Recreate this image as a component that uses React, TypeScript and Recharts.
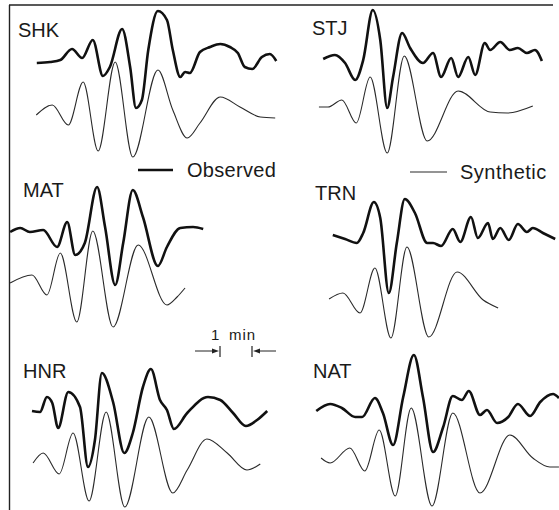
import { Line, LineChart, XAxis, YAxis } from "recharts";

// Long-period records, six stations. Each point is [time (s), amplitude].
// Time runs from the left edge of the station's box; amplitude is relative.
const stationNames = ["SHK", "STJ", "MAT", "TRN", "HNR", "NAT"];

const shkObserved: [number, number][] = [
  [69, -3], [94, -2], [113, 0], [135, 11], [154, 2], [174, 20], [193, -16], [206, -7],
  [229, 31], [244, -7], [255, -48], [266, -40], [278, 10], [296, 49], [313, 40], [324, 10],
  [338, -17], [347, -12], [356, -13], [375, 8], [394, 13], [413, 16], [431, 13], [446, 7],
  [459, -7], [473, -9], [491, 3], [506, 6], [518, -1],
];
const shkSynthetic: [number, number][] = [
  [68, 0], [98, 10], [128, -10], [156, 33], [184, -36], [216, 53], [249, -42], [296, 45],
  [324, 5], [351, -23], [375, -8], [413, 18], [450, 8], [488, -2], [516, -3],
];

const stjObserved: [number, number][] = [
  [81, 1], [103, 5], [122, -3], [141, -20], [156, 0], [174, 50], [188, 20], [201, -48],
  [212, -17], [229, 27], [244, 12], [268, -3], [287, 7], [302, -17], [321, 2], [334, -17],
  [353, 3], [366, -15], [384, 17], [394, 10], [413, 18], [431, 10], [446, 12], [463, 7],
  [478, 10], [491, -1],
];
const stjSynthetic: [number, number][] = [
  [73, 0], [90, 0], [116, 7], [143, -16], [169, 30], [201, -46], [233, 51], [276, -34],
  [334, 16], [394, -5], [426, -6], [474, 1],
];

const matObserved: [number, number][] = [
  [19, -2], [38, 2], [56, -2], [81, 0], [107, -17], [126, 8], [141, -25], [159, -13],
  [182, 43], [197, 3], [216, -55], [231, -13], [249, 40], [268, 13], [296, -36], [313, -17],
  [338, 2], [362, 3], [381, 1],
];
const matSynthetic: [number, number][] = [
  [19, 0], [60, 8], [88, -12], [113, 30], [144, -39], [174, 52], [212, -44], [259, 38],
  [313, -22], [332, -14], [347, -5],
];

const trnObserved: [number, number][] = [
  [99, 5], [122, 1], [144, -3], [156, 7], [176, 38], [188, 22], [204, -53], [219, -3],
  [234, 41], [253, 27], [276, -3], [287, -3], [302, -6], [324, 11], [338, -2], [358, 23],
  [371, 2], [390, 17], [399, 1], [413, 12], [429, 0], [446, 16], [463, 8], [474, 12],
  [493, 7], [516, 1],
];
const trnSynthetic: [number, number][] = [
  [92, 0], [118, 6], [150, -14], [178, 31], [208, -39], [238, 52], [279, -38], [332, 27],
  [381, -1], [409, -9],
];

const hnrObserved: [number, number][] = [
  [60, -1], [75, -2], [88, 13], [98, 7], [109, -18], [128, 18], [150, 3], [165, -57],
  [178, -30], [191, 37], [212, 8], [233, -43], [249, -23], [268, 23], [283, 41], [300, 10],
  [313, 0], [326, -19], [351, -3], [390, 13], [413, 10], [437, -3], [461, -16], [482, -10],
  [501, -1],
];
const hnrSynthetic: [number, number][] = [
  [62, 0], [81, 10], [111, -11], [137, 30], [167, -38], [199, 51], [234, -44], [279, 46],
  [324, -30], [351, -7], [388, 24], [426, 10], [463, -7], [488, -1],
];

const natObserved: [number, number][] = [
  [68, -1], [94, 6], [116, 2], [141, -7], [154, -7], [178, 12], [193, -3], [212, -35],
  [231, 13], [251, 55], [268, 13], [287, -42], [306, -17], [324, 14], [341, 10], [354, 19],
  [375, -5], [388, 0], [407, -13], [428, -7], [446, 6], [469, -6], [488, 8], [512, 16],
  [523, 12],
];
const natSynthetic: [number, number][] = [
  [77, 2], [94, -3], [131, 12], [159, -11], [186, 30], [216, -36], [246, 52], [285, -46],
  [324, 47], [375, -33], [431, 25], [474, 2], [506, -7], [523, -7],
];

const legendLabels = ["Observed", "Synthetic"];
const scaleLabel = ["1", "min"];

// layout
const SEC_PER_PX = 1.875;
const BOX_H = 170;

type Box = {
  obs: [number, number][];
  syn: [number, number][];
  left: number;
  top: number;
  w: number;
  obsDomain: [number, number];
  synDomain: [number, number];
  labelX: number;
  labelY: number;
};

const boxes: Box[] = [
  { obs: shkObserved, syn: shkSynthetic, left: 0, top: 0, w: 280, obsDomain: [-110, 60], synDomain: [-55, 115], labelX: 18, labelY: 37 },
  { obs: stjObserved, syn: stjSynthetic, left: 280, top: 0, w: 279, obsDomain: [-110, 60], synDomain: [-63, 107], labelX: 312, labelY: 35 },
  { obs: matObserved, syn: matSynthetic, left: 0, top: 170, w: 280, obsDomain: [-110, 60], synDomain: [-57, 113], labelX: 23, labelY: 197 },
  { obs: trnObserved, syn: trnSynthetic, left: 280, top: 170, w: 279, obsDomain: [-100, 70], synDomain: [-41, 129], labelX: 315, labelY: 200 },
  { obs: hnrObserved, syn: hnrSynthetic, left: 0, top: 340, w: 280, obsDomain: [-100, 70], synDomain: [-47, 123], labelX: 23, labelY: 378 },
  { obs: natObserved, syn: natSynthetic, left: 280, top: 340, w: 279, obsDomain: [-100, 70], synDomain: [-50, 120], labelX: 313, labelY: 378 },
];

const toRows = (pts: [number, number][]) => pts.map(([t, a]) => ({ t, a }));

const FONT = "'Liberation Sans', Arial, sans-serif";

function StationBox({ box }: { box: Box }) {
  return (
    <div style={{ position: "absolute", left: box.left, top: box.top }}>
      <LineChart width={box.w} height={BOX_H} margin={{ top: 0, right: 0, bottom: 0, left: 0 }} style={{ overflow: "visible" }}>
        <XAxis type="number" dataKey="t" domain={[0, box.w * SEC_PER_PX]} allowDataOverflow hide />
        <YAxis yAxisId="obs" type="number" domain={box.obsDomain} allowDataOverflow hide />
        <YAxis yAxisId="syn" type="number" domain={box.synDomain} allowDataOverflow hide />
        <Line
          data={toRows(box.syn)}
          dataKey="a"
          yAxisId="syn"
          type="monotone"
          stroke="#2a2a2a"
          strokeWidth={1.1}
          dot={false}
          activeDot={false}
          isAnimationActive={false}
        />
        <Line
          data={toRows(box.obs)}
          dataKey="a"
          yAxisId="obs"
          type="monotone"
          stroke="#111"
          strokeWidth={2.6}
          dot={false}
          activeDot={false}
          isAnimationActive={false}
        />
      </LineChart>
    </div>
  );
}

export default function App() {
  return (
    <div style={{ position: "absolute", left: 0, top: 0, width: 559, height: 510, background: "#fff", overflow: "hidden" }}>
      {boxes.map((b, i) => (
        <StationBox key={stationNames[i]} box={b} />
      ))}
      <svg width={559} height={510} style={{ position: "absolute", left: 0, top: 0, pointerEvents: "none" }}>
        <line x1={9} y1={5} x2={553} y2={5} stroke="#222" strokeWidth={1.4} />
        <line x1={9.5} y1={5} x2={9.5} y2={510} stroke="#222" strokeWidth={1.4} />
        {boxes.map((b, i) => (
          <text key={stationNames[i]} x={b.labelX} y={b.labelY} fontFamily={FONT} fontSize={20} fill="#1a1a1a">
            {stationNames[i]}
          </text>
        ))}
        <line x1={138} y1={170} x2={173} y2={170} stroke="#111" strokeWidth={2.6} />
        <text x={187} y={177} fontFamily={FONT} fontSize={20} letterSpacing={0.3} fill="#1a1a1a">
          {legendLabels[0]}
        </text>
        <line x1={410} y1={172} x2={447} y2={172} stroke="#2a2a2a" strokeWidth={1.1} />
        <text x={460} y={179} fontFamily={FONT} fontSize={20} letterSpacing={0.5} fill="#1a1a1a">
          {legendLabels[1]}
        </text>
        <text x={211} y={340} fontFamily={FONT} fontSize={15} fill="#1a1a1a">
          {scaleLabel[0]}
        </text>
        <text x={229} y={340} fontFamily={FONT} fontSize={15} letterSpacing={1} fill="#1a1a1a">
          {scaleLabel[1]}
        </text>
        <line x1={195} y1={351} x2={214} y2={351} stroke="#222" strokeWidth={1} />
        <polygon points="212,348.5 219,351 212,353.5" fill="#222" />
        <line x1={220} y1={346} x2={220} y2={357} stroke="#222" strokeWidth={1.2} />
        <line x1={259} y1={351} x2={276} y2={351} stroke="#222" strokeWidth={1} />
        <polygon points="260,348.5 253,351 260,353.5" fill="#222" />
        <line x1={252} y1={346} x2={252} y2={357} stroke="#222" strokeWidth={1.2} />
      </svg>
    </div>
  );
}
